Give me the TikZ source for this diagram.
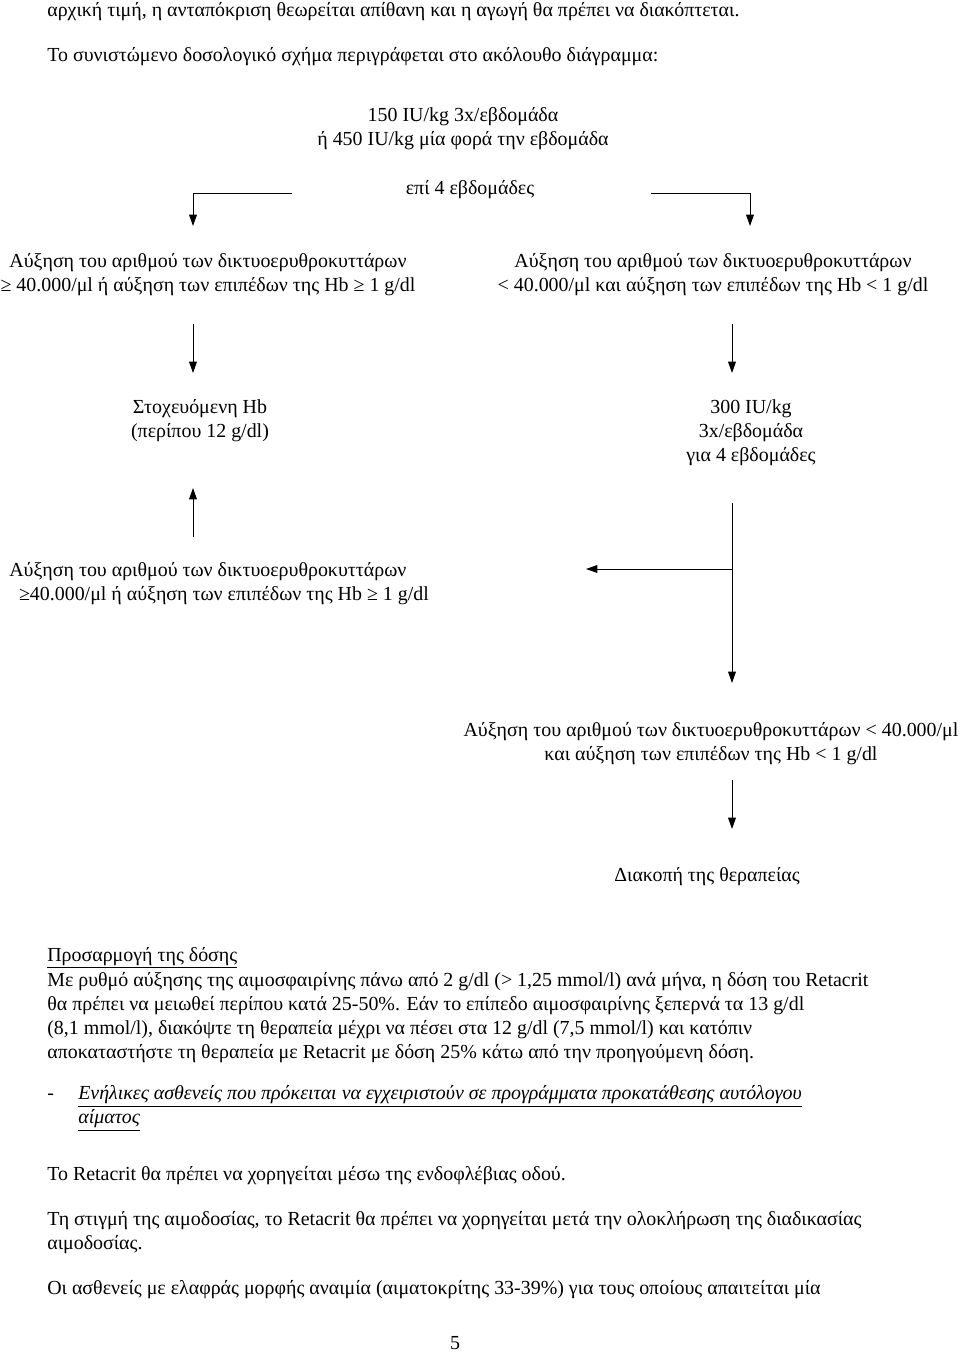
\documentclass[tikz,border=0pt]{standalone}
\usepackage{fontspec}
\setmainfont{Liberation Serif}
\usetikzlibrary{arrows.meta}
\begin{document}
\begin{tikzpicture}[x=0.6198pt,y=-0.6198pt,
  txt/.style={inner sep=0pt,font=\fontsize{12.35}{14.9}\selectfont,align=center},
  ltxt/.style={txt,anchor=west,align=left},
  conn/.style={line width=0.6pt,-{Triangle[width=4.8pt,length=7pt]}}]
\useasboundingbox (0,0) rectangle (960,1353);
\fill[white] (0,0) rectangle (960,1353);
% top text
\node[ltxt] (l1) at (47,12) {αρχική τιμή, η ανταπόκριση θεωρείται απίθανη και η αγωγή θα πρέπει να διακόπτεται.};
\node[ltxt] (l2) at (47,57) {Το συνιστώμενο δοσολογικό σχήμα περιγράφεται στο ακόλουθο διάγραμμα:};
% flow chart
\node[txt] (start) at (463,129) {150 IU/kg 3x/εβδομάδα\\ή 450 IU/kg μία φορά την εβδομάδα};
\node[txt] (weeks) at (470,190) {επί 4 εβδομάδες};
\node[txt] (yes1) at (208,275) {Αύξηση του αριθμού των δικτυοερυθροκυττάρων\\≥ 40.000/μl ή αύξηση των επιπέδων της Hb ≥ 1 g/dl};
\node[txt] (no1) at (713,275) {Αύξηση του αριθμού των δικτυοερυθροκυττάρων\\< 40.000/μl και αύξηση των επιπέδων της Hb < 1 g/dl};
\node[txt] (target) at (200,420.5) {Στοχευόμενη Hb\\(περίπου 12 g/dl)};
\node[txt] (dose) at (751,433) {300 IU/kg\\3x/εβδομάδα\\για 4 εβδομάδες};
\node[ltxt] (yes2) at (9,584) {Αύξηση του αριθμού των δικτυοερυθροκυττάρων\\\hspace*{6pt}≥40.000/μl ή αύξηση των επιπέδων της Hb ≥ 1 g/dl};
\node[txt] (no2) at (711,744) {Αύξηση του αριθμού των δικτυοερυθροκυττάρων < 40.000/μl\\και αύξηση των επιπέδων της Hb < 1 g/dl};
\node[txt] (stop) at (707,877) {Διακοπή της θεραπείας};
% connector points
\coordinate (lbS) at (292,193); \coordinate (lbE) at (193,226);
\coordinate (rbS) at (651,193); \coordinate (rbE) at (750,226);
\coordinate (a1S) at (193,324); \coordinate (a1E) at (193,373);
\coordinate (a2S) at (732,324); \coordinate (a2E) at (732,373);
\coordinate (a3S) at (193,537); \coordinate (a3E) at (193,488);
\coordinate (vS) at (732,503); \coordinate (vE) at (732,683);
\coordinate (br) at (732,569); \coordinate (brE) at (586,569);
\coordinate (a5S) at (732,780); \coordinate (a5E) at (732,829);
\draw[conn] (lbS) -| (lbE);
\draw[conn] (rbS) -| (rbE);
\draw[conn] (a1S) -- (a1E);
\draw[conn] (a2S) -- (a2E);
\draw[conn] (a3S) -- (a3E);
\draw[conn] (vS) -- (vE);
\draw[conn] (br) -- (brE);
\draw[conn] (a5S) -- (a5E);
% bottom text
\node[ltxt] (adj) at (47,958) {\underline{Προσαρμογή της δόσης}};
\node[ltxt] (para) at (47,1017.5) {Με ρυθμό αύξησης της αιμοσφαιρίνης πάνω από 2 g/dl (> 1,25 mmol/l) ανά μήνα, η δόση του Retacrit\\θα πρέπει να μειωθεί περίπου κατά 25-50\%. Εάν το επίπεδο αιμοσφαιρίνης ξεπερνά τα 13 g/dl\\(8,1 mmol/l), διακόψτε τη θεραπεία μέχρι να πέσει στα 12 g/dl (7,5 mmol/l) και κατόπιν\\αποκαταστήστε τη θεραπεία με Retacrit με δόση 25\% κάτω από την προηγούμενη δόση.};
\node[ltxt] (dash) at (47,1097) {-};
\node[ltxt] (adult) at (78,1108.5) {\underline{\textit{Ενήλικες ασθενείς που πρόκειται να εγχειριστούν σε προγράμματα προκατάθεσης αυτόλογου}}\\\underline{\textit{αίματος}}};
\node[ltxt] (iv) at (47,1176) {Το Retacrit θα πρέπει να χορηγείται μέσω της ενδοφλέβιας οδού.};
\node[ltxt] (tr) at (47,1233) {Τη στιγμή της αιμοδοσίας, το Retacrit θα πρέπει να χορηγείται μετά την ολοκλήρωση της διαδικασίας\\αιμοδοσίας.};
\node[ltxt] (mild) at (47,1290) {Οι ασθενείς με ελαφράς μορφής αναιμία (αιματοκρίτης 33-39\%) για τους οποίους απαιτείται μία};
\node[txt] (page) at (455,1343) {5};
\end{tikzpicture}
\end{document}
